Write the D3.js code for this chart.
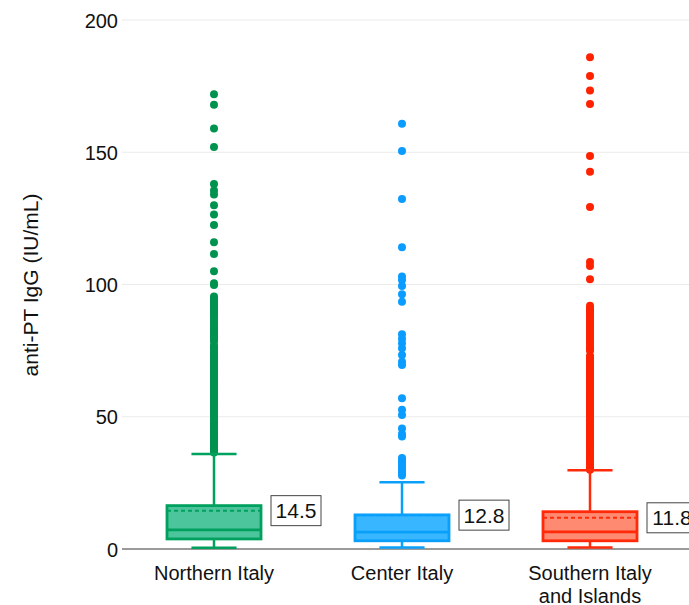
<!DOCTYPE html>
<html><head><meta charset="utf-8">
<script src="https://cdn.jsdelivr.net/npm/d3@7"></script>
<style>body{margin:0;background:#fff;} svg{display:block;font-family:"Liberation Sans",Arial,sans-serif;}</style>
</head><body>
<svg id="c" width="689" height="605"></svg>
<script>
const categories = ["Northern Italy", "Center Italy", "Southern Italy\nand Islands"];
const q1 = [3.8, 3.1, 3.1];
const medians = [7.2, 6.4, 6.5];
const q3 = [16.4, 12.9, 14.1];
const means = [14.5, 12.8, 11.8];
const meanLabels = ["14.5", "12.8", "11.8"];
const whiskerLow = [0.5, 0.6, 0.6];
const whiskerHigh = [35.9, 25.2, 29.8];
const outliersNorth = [171.9, 168, 159, 152, 138, 135.5, 134, 130, 126.5, 122.5, 116, 111.5, 105, 100.5, 99.8,
  95.5, 94.5, 94, 93, 92.5, 92, 91, 90.5, 90, 89, 88.5, 88, 87, 86, 85, 84.5, 84, 83, 82.5, 82, 81, 80.5, 80, 79, 78.5,
  77, 76.5, 76, 75.5, 75, 74, 73.5, 73, 72, 71.5, 71, 70, 69.5, 69, 68, 67.5, 67, 66, 65.5, 65, 64, 63.5, 63, 62, 61.5, 61,
  60, 59.5, 59, 58, 57.5, 57, 56, 55.5, 55, 54, 53.5, 53, 52, 51.5, 51, 50, 49.5, 49, 48, 47.5, 47, 46, 45.5, 45, 44, 43.5,
  43, 42, 41.5, 41, 40, 39.5, 39, 38, 37.5, 37, 36.5];
const outliersCenter = [160.8, 150.5, 132.3, 114.1, 103, 101.7, 99.4, 96.3, 93.5, 81.2, 79.5, 77.8, 75.9, 73.3, 70.8, 69.6,
  57, 52.6, 50.7, 45.6, 43.5, 42.5, 34.4, 33.5, 32.5, 31.5, 30.5, 29.5, 28.7, 27.8];
const outliersSouth = [185.9, 178.8, 173.3, 168.2, 148.6, 142.6, 129.3, 108.5, 107, 102,
  92, 91, 90.5, 90, 89, 88, 87.5, 87, 86, 85, 84.5, 84, 83, 82, 81.5, 81, 80, 79, 78.5, 78, 77, 76, 75.5, 75,
  73, 72.5, 72, 71, 70.5, 70, 69, 68.5, 68, 67, 66.5, 66, 65, 64.5, 64, 63, 62.5, 62, 61, 60.5, 60, 59, 58.5, 58, 57, 56.5,
  56, 55, 54.5, 54, 53, 52.5, 52, 51, 50.5, 50, 49, 48.5, 48, 47, 46.5, 46, 45, 44.5, 44, 43, 42.5, 42, 41, 40.5, 40, 39,
  38.5, 38, 37, 36.5, 36, 35, 34.5, 34, 33, 32.5, 32, 31, 30.5, 30];
const outliers = [outliersNorth, outliersCenter, outliersSouth];
const yTicks = [0, 50, 100, 150, 200];
const yTitle = "anti-PT IgG (IU/mL)";

const strokeColors = ["#00a05e", "#0aa0fa", "#ff2a0a"];
const fillColors = ["#4cc49c", "#38b6ff", "#ff8a72"];
const dotColors = ["#00934f", "#0a9cff", "#ff2200"];

const svg = d3.select("#c");
const x = d3.scaleBand().domain(categories).range([120, 684]).padding(0);
const y = d3.scaleLinear().domain([0, 200]).range([549, 20]);

// gridlines
svg.append("g").selectAll("line").data(yTicks.filter(d => d > 0)).join("line")
  .attr("x1", 122).attr("x2", 689).attr("y1", d => y(d)).attr("y2", d => y(d))
  .attr("stroke", "#ebebeb").attr("stroke-width", 1.2);

// y axis labels
const yAxis = d3.axisLeft(y).tickValues(yTicks).tickSize(0).tickPadding(0);
const ga = svg.append("g").attr("transform", "translate(118,0)").call(yAxis);
ga.select(".domain").remove();
ga.selectAll("text").attr("font-size", 20).attr("fill", "#111").attr("font-family", "Liberation Sans, Arial, sans-serif").attr("dy", "0.35em");

// x baseline
svg.append("line").attr("x1", 122).attr("x2", 689).attr("y1", y(0)).attr("y2", y(0))
  .attr("stroke", "#9a9a9a").attr("stroke-width", 2);

// y title
svg.append("text").attr("transform", `translate(38,285) rotate(-90)`)
  .attr("text-anchor", "middle").attr("font-size", 21).attr("fill", "#111").text(yTitle);

const bw = x.bandwidth();
const boxW = bw * 0.5;
const capW = bw * 0.24;

categories.forEach((cat, i) => {
  const cx = x(cat) + bw / 2;
  const g = svg.append("g");
  g.selectAll("circle").data(outliers[i]).join("circle")
    .attr("cx", cx).attr("cy", d => y(d)).attr("r", 4).attr("fill", dotColors[i]);
  g.append("line").attr("x1", cx).attr("x2", cx).attr("y1", y(q3[i])).attr("y2", y(whiskerHigh[i]))
    .attr("stroke", strokeColors[i]).attr("stroke-width", 2.5);
  g.append("line").attr("x1", cx).attr("x2", cx).attr("y1", y(q1[i])).attr("y2", y(whiskerLow[i]))
    .attr("stroke", strokeColors[i]).attr("stroke-width", 2.5);
  [whiskerHigh[i], whiskerLow[i]].forEach(v => {
    g.append("line").attr("x1", cx - capW / 2).attr("x2", cx + capW / 2).attr("y1", y(v)).attr("y2", y(v))
      .attr("stroke", strokeColors[i]).attr("stroke-width", 2.5);
  });
  g.append("rect").attr("x", cx - boxW / 2).attr("y", y(q3[i])).attr("width", boxW)
    .attr("height", y(q1[i]) - y(q3[i])).attr("fill", fillColors[i])
    .attr("stroke", strokeColors[i]).attr("stroke-width", 2.8);
  g.append("line").attr("x1", cx - boxW / 2).attr("x2", cx + boxW / 2).attr("y1", y(medians[i])).attr("y2", y(medians[i]))
    .attr("stroke", strokeColors[i]).attr("stroke-width", 2.8);
  g.append("line").attr("x1", cx - boxW / 2).attr("x2", cx + boxW / 2).attr("y1", y(means[i])).attr("y2", y(means[i]))
    .attr("stroke", strokeColors[i]).attr("stroke-width", 2).attr("stroke-dasharray", "4,3");
  const lx = cx + boxW / 2 + 10, lw = 50, lh = 30;
  g.append("rect").attr("x", lx).attr("y", y(means[i]) - lh / 2).attr("width", lw).attr("height", lh)
    .attr("fill", "#fff").attr("stroke", "#444").attr("stroke-width", 1);
  g.append("text").attr("x", lx + lw / 2).attr("y", y(means[i])).attr("dy", "0.36em")
    .attr("text-anchor", "middle").attr("font-size", 21).attr("fill", "#111").text(meanLabels[i]);
  const lines = cat.split("\n");
  const t = svg.append("text").attr("text-anchor", "middle").attr("font-size", 20).attr("fill", "#111");
  lines.forEach((ln, k) => {
    t.append("tspan").attr("x", cx).attr("y", 580 + k * 23).text(ln);
  });
});
</script>
</body></html>
